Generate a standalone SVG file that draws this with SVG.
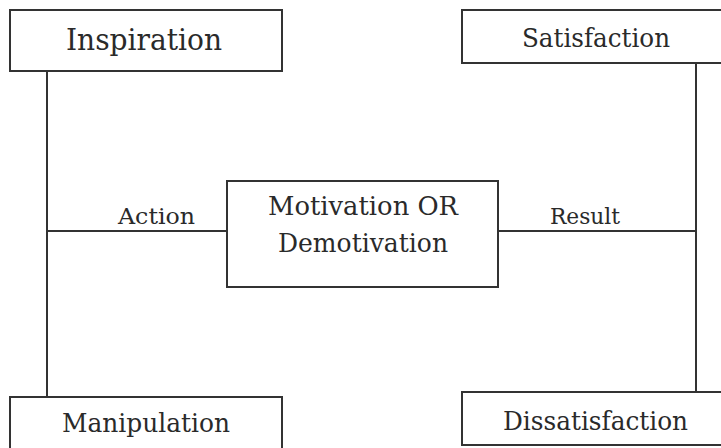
<svg xmlns="http://www.w3.org/2000/svg" width="721" height="448" viewBox="0 0 721 448">
<style>
.box{fill:#fff;stroke:#333;stroke-width:2}
.ln{stroke:#333;stroke-width:2;fill:none}
text{font-family:'DejaVu Serif',serif;fill:#2a2a2a}
.t{font-size:26px}
.big{font-size:30px}
.lab{font-size:22px}
</style>
<rect width="721" height="448" fill="#fff"/>
<g id="connectors">
<line class="ln" x1="47" y1="71" x2="47" y2="397"/>
<line class="ln" x1="47" y1="231" x2="227" y2="231"/>
<line class="ln" x1="696" y1="63" x2="696" y2="392"/>
<line class="ln" x1="498" y1="231" x2="696" y2="231"/>
<text class="lab" x="118" y="224" textLength="77" lengthAdjust="spacingAndGlyphs">Action</text>
<text class="lab" x="550" y="224" textLength="70" lengthAdjust="spacingAndGlyphs">Result</text>
</g>
<g id="inspiration">
<rect class="box" x="10" y="10" width="272" height="61"/>
<text class="big" x="66" y="50" textLength="156" lengthAdjust="spacingAndGlyphs">Inspiration</text>
</g>
<g id="satisfaction">
<rect class="box" x="462" y="10" width="270" height="53"/>
<text class="t" x="522" y="47" textLength="148" lengthAdjust="spacingAndGlyphs">Satisfaction</text>
</g>
<g id="motivation">
<rect class="box" x="227" y="181" width="271" height="106"/>
<text class="t" x="268" y="215" textLength="190" lengthAdjust="spacingAndGlyphs">Motivation OR</text>
<text class="t" x="278" y="252" textLength="170" lengthAdjust="spacingAndGlyphs">Demotivation</text>
</g>
<g id="manipulation">
<rect class="box" x="10" y="397" width="272" height="60"/>
<text class="t" x="62" y="432" textLength="168" lengthAdjust="spacingAndGlyphs">Manipulation</text>
</g>
<g id="dissatisfaction">
<rect class="box" x="462" y="392" width="270" height="53"/>
<text class="t" x="503" y="430" textLength="185" lengthAdjust="spacingAndGlyphs">Dissatisfaction</text>
</g>
</svg>
